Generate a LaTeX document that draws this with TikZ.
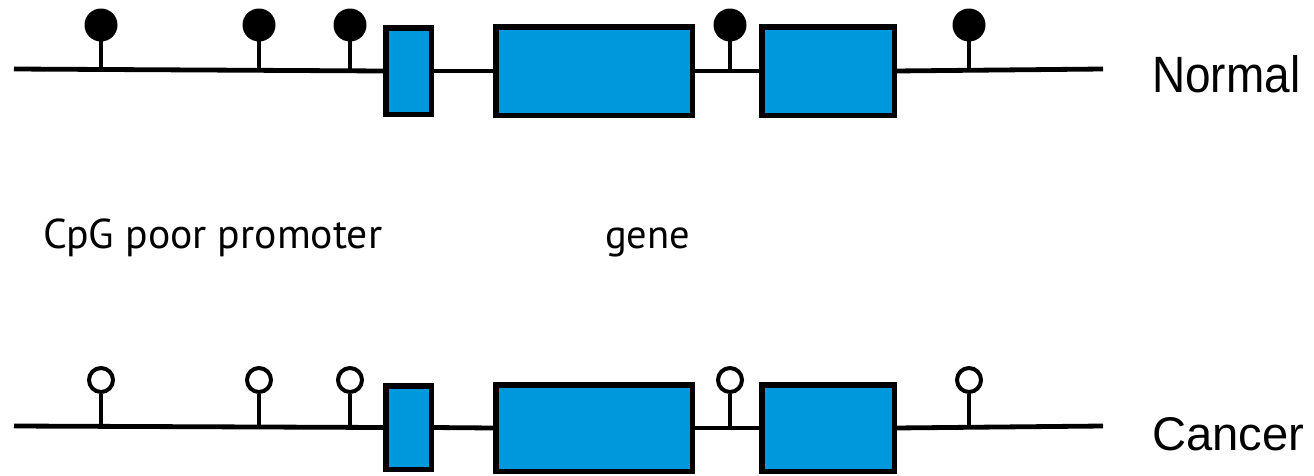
\documentclass[tikz,border=0pt]{standalone}
\usepackage{fontspec}
\setmainfont{Liberation Sans}
\newfontfamily\labelfont{PT Sans}
\definecolor{exonblue}{RGB}{0,152,220}
\begin{document}
\begin{tikzpicture}[x=1pt,y=-1pt,
  dna/.style={line width=4.8pt},
  exon/.style={draw=black, line width=5.5pt, fill=exonblue, inner sep=0pt, outer sep=0pt, rectangle},
  stem/.style={line width=4.8pt},
  methyl/.style={circle, fill=black, minimum size=33pt, inner sep=0pt, outer sep=0pt},
  unmethyl/.style={circle, draw=black, line width=4pt, fill=white, minimum size=24pt, inner sep=0pt, outer sep=2pt},
  state/.style={anchor=base west, inner sep=0pt},
  region/.style={anchor=base west, inner sep=0pt, font=\labelfont}]
\useasboundingbox (0,0) rectangle (1314,475);

% ---------- normal allele ----------
\coordinate (nL) at (14,69);
\coordinate (nR) at (1103,69);
\node[exon, minimum width=45.5pt, minimum height=86.5pt] (nE1) at (408.5,71) {};
\node[exon, minimum width=196.5pt, minimum height=88.5pt] (nE2) at (594,71) {};
\node[exon, minimum width=132.5pt, minimum height=88.5pt] (nE3) at (828,71) {};
\draw[dna] (nL) -- (nE1.west);
\draw[dna] (nE1.east) -- (nE2.west);
\draw[dna] (nE2.east) -- (nE3.west);
\draw[dna] (nE3.east) -- (nR);

\foreach \i/\x in {1/101,2/259,3/350,4/730,5/969}{
  \node[methyl] (nM\i) at (\x,25) {};
  \coordinate (nS\i) at (\x,69);
  \draw[stem] (nS\i) -- (nM\i.center);
}

\node[state] (normal) at (1152,92) {\resizebox{148pt}{37pt}{Normal}};

% ---------- labels ----------
\node[region] (promoter) at (43,248) {\resizebox{339pt}{!}{CpG poor promoter}};
\node[region] (gene) at (605,248) {\resizebox{85pt}{!}{gene}};

% ---------- cancer allele ----------
\coordinate (cL) at (14,426);
\coordinate (cR) at (1103,426);
\node[exon, minimum width=45.5pt, minimum height=83.5pt] (cE1) at (408.5,427.5) {};
\node[exon, minimum width=196.5pt, minimum height=86.5pt] (cE2) at (594,428) {};
\node[exon, minimum width=132.5pt, minimum height=86.5pt] (cE3) at (828,428) {};
\draw[dna] (cL) -- (cE1.west);
\draw[dna] (cE1.east) -- (cE2.west);
\draw[dna] (cE2.east) -- (cE3.west);
\draw[dna] (cE3.east) -- (cR);

\foreach \i/\x in {1/101,2/259,3/350,4/730,5/969}{
  \node[unmethyl] (cM\i) at (\x,380) {};
  \coordinate (cS\i) at (\x,426);
  \draw[stem] (cS\i) -- (cM\i.south);
}

\node[state] (cancer) at (1152,450) {\resizebox{152pt}{33pt}{Cancer}};
\end{tikzpicture}
\end{document}
